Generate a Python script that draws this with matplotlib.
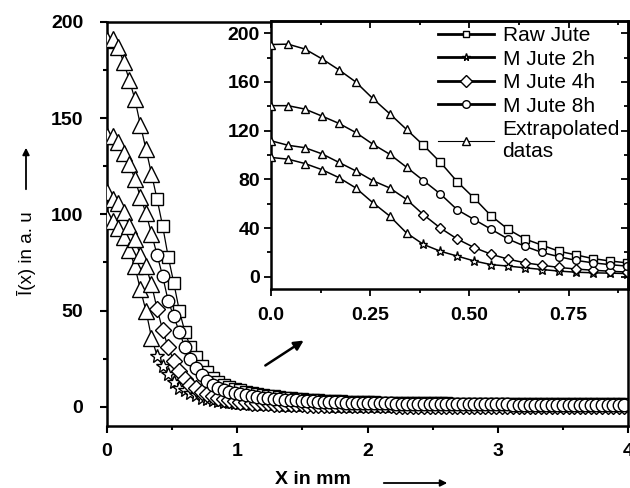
import numpy as np
import matplotlib
matplotlib.use("Agg")
import matplotlib.pyplot as plt
from matplotlib.ticker import MultipleLocator, FixedLocator

plt.rcParams["font.family"] = ["Liberation Sans", "DejaVu Sans"]
plt.rcParams["font.size"] = 14
plt.rcParams["font.weight"] = "bold"

# sampling step along X (mm), 94 samples from 0 to ~4 mm
dx = 0.0427
n_pts = 94
x = np.arange(n_pts) * dx

# extrapolated part (index 0..8), shared by the four samples
extrap_raw = [190.7, 191, 187, 179, 170, 160, 146.5, 134, 121]
extrap_8h = [140.5, 140.5, 137.7, 132, 126, 118.5, 109, 100.7, 90]
extrap_4h = [111.7, 108, 106, 101, 94, 87, 79, 73, 63.6]
extrap_2h = [98, 96.6, 93, 88, 81.5, 73, 61, 50, 36]

# measured data (index 8..93)
raw_jute = [121, 108, 94, 78, 64.5, 50, 39, 31, 26, 21, 18, 15, 13, 11.5,
            10.3, 9.3, 8.5, 7.8, 7.2, 6.7, 6.2, 5.8, 5.4, 5.0,
            4.7, 4.4, 4.1, 3.9, 3.7, 3.5, 3.3, 3.1, 3.0, 2.9,
            2.8, 2.7, 2.6, 2.5, 2.4, 2.3, 2.3, 2.2, 2.1, 2.1,
            2.0, 2.0, 1.9, 1.9, 1.8, 1.8, 1.8, 1.7, 1.7, 1.7,
            1.6, 1.6, 1.6, 1.6, 1.5, 1.5, 1.5, 1.5, 1.5, 1.4,
            1.4, 1.4, 1.4, 1.4, 1.4, 1.3, 1.3, 1.3, 1.3, 1.3,
            1.3, 1.3, 1.2, 1.2, 1.2, 1.2, 1.2, 1.2, 1.2, 1.2,
            1.2, 1.2]
m_jute_8h = [90, 79, 68, 55, 47, 39, 31, 25, 20, 16.5, 13.5, 11.5, 10.0, 8.8,
             7.9, 7.2, 6.6, 6.1, 5.6, 5.2, 4.8, 4.5, 4.2, 3.9,
             3.7, 3.5, 3.3, 3.1, 2.9, 2.8, 2.7, 2.6, 2.5, 2.4,
             2.3, 2.2, 2.1, 2.0, 2.0, 1.9, 1.8, 1.8, 1.7, 1.7,
             1.6, 1.6, 1.6, 1.5, 1.5, 1.5, 1.4, 1.4, 1.4, 1.4,
             1.3, 1.3, 1.3, 1.3, 1.3, 1.2, 1.2, 1.2, 1.2, 1.2,
             1.2, 1.1, 1.1, 1.1, 1.1, 1.1, 1.1, 1.1, 1.1, 1.1,
             1.0, 1.0, 1.0, 1.0, 1.0, 1.0, 1.0, 1.0, 1.0, 1.0,
             1.0, 1.0]
m_jute_4h = [63.6, 51, 40, 31, 24, 18.5, 14.5, 11.5, 9.5, 7.7, 6.4, 5.4, 4.6, 3.9,
             3.4, 3.0, 2.7, 2.4, 2.2, 2.0, 1.8, 1.7, 1.6, 1.5,
             1.4, 1.3, 1.2, 1.2, 1.1, 1.1, 1.0, 1.0, 0.9, 0.9,
             0.9, 0.8, 0.8, 0.8, 0.8, 0.7, 0.7, 0.7, 0.7, 0.7,
             0.6, 0.6, 0.6, 0.6, 0.6, 0.6, 0.6, 0.5, 0.5, 0.5,
             0.5, 0.5, 0.5, 0.5, 0.5, 0.5, 0.5, 0.5, 0.4, 0.4,
             0.4, 0.4, 0.4, 0.4, 0.4, 0.4, 0.4, 0.4, 0.4, 0.4,
             0.4, 0.4, 0.4, 0.4, 0.4, 0.4, 0.4, 0.4, 0.4, 0.4,
             0.4, 0.4]
m_jute_2h = [36, 26.6, 21, 17, 13, 10, 8.8, 7.4, 6, 4.7, 3.8, 3.3, 3.0, 2.7,
             2.4, 2.2, 2.0, 1.8, 1.6, 1.5, 1.4, 1.3, 1.2, 1.1,
             1.0, 0.9, 0.9, 0.8, 0.8, 0.7, 0.7, 0.7, 0.6, 0.6,
             0.6, 0.5, 0.5, 0.5, 0.5, 0.5, 0.4, 0.4, 0.4, 0.4,
             0.4, 0.4, 0.4, 0.3, 0.3, 0.3, 0.3, 0.3, 0.3, 0.3,
             0.3, 0.3, 0.3, 0.3, 0.3, 0.3, 0.3, 0.3, 0.3, 0.3,
             0.2, 0.2, 0.2, 0.2, 0.2, 0.2, 0.2, 0.2, 0.2, 0.2,
             0.2, 0.2, 0.2, 0.2, 0.2, 0.2, 0.2, 0.2, 0.2, 0.2,
             0.2, 0.2]

series = [
    ("Raw Jute", raw_jute, "s"),
    ("M Jute 2h", m_jute_2h, "*"),
    ("M Jute 4h", m_jute_4h, "D"),
    ("M Jute 8h", m_jute_8h, "o"),
]
extraps = [extrap_raw, extrap_2h, extrap_4h, extrap_8h]

main_sizes = {"s": 9, "*": 10, "D": 8, "o": 9, "^": 11}
inset_sizes = {"s": 5.5, "*": 6.5, "D": 5, "o": 5.5, "^": 6}
legend_sizes = [4.5, 5.5, 6, 5.5, 6]


def draw(ax, sizes, lw):
    for label, vals, mk in series:
        ax.plot(x[8:], vals, color="black", lw=lw, marker=mk,
                markersize=sizes[mk], markerfacecolor="white",
                markeredgecolor="black", markeredgewidth=1.0,
                markevery=slice(1, None), label=label)
    for i, ev in enumerate(extraps):
        ax.plot(x[:9], ev, color="black", lw=lw, marker="^",
                markersize=sizes["^"], markerfacecolor="white",
                markeredgecolor="black", markeredgewidth=1.0,
                label="_extrap" if i else "Extrapolated\ndatas", zorder=3)


fig = plt.figure(figsize=(6.3, 4.88), dpi=100)
ax = fig.add_axes([107 / 630, 62 / 488, 521 / 630, 404 / 488])
draw(ax, main_sizes, 0.9)
ax.set_xlim(0, 4)
ax.set_ylim(-10, 200)
ax.xaxis.set_major_locator(MultipleLocator(1))
ax.xaxis.set_minor_locator(MultipleLocator(0.5))
ax.yaxis.set_major_locator(MultipleLocator(50))
ax.yaxis.set_minor_locator(MultipleLocator(25))
ax.tick_params(which="both", direction="out", width=1.5, top=False, right=False)
ax.tick_params(which="major", length=5)
ax.tick_params(which="minor", length=3)
ax.tick_params(axis="y", pad=12)
ax.tick_params(axis="x", pad=7)
for sp in ax.spines.values():
    sp.set_linewidth(1.8)

# inset
axi = fig.add_axes([271 / 630, 199 / 488, 357 / 630, 268 / 488])
draw(axi, inset_sizes, 1.1)
axi.set_xlim(0, 0.9)
axi.set_ylim(-10, 210)
axi.xaxis.set_major_locator(FixedLocator([0, 0.25, 0.5, 0.75]))
axi.set_xticklabels(["0.0", "0.25", "0.50", "0.75"])
axi.xaxis.set_minor_locator(MultipleLocator(0.125))
axi.yaxis.set_major_locator(MultipleLocator(40))
axi.yaxis.set_minor_locator(MultipleLocator(20))
axi.tick_params(which="both", direction="out", width=1.3, top=False, right=False)
axi.tick_params(which="major", length=5, pad=3)
axi.tick_params(which="minor", length=3)
axi.tick_params(axis="x", pad=8)
axt = axi.secondary_xaxis("top")
axt.set_xticks([0, 0.25, 0.5, 0.75])
axt.xaxis.set_minor_locator(MultipleLocator(0.125))
axt.tick_params(which="both", direction="in", labeltop=False, width=1.3)
axt.tick_params(which="major", length=5)
axt.tick_params(which="minor", length=3)
axr = axi.secondary_yaxis("right")
axr.set_yticks(np.arange(0, 201, 40))
axr.yaxis.set_minor_locator(MultipleLocator(20))
axr.tick_params(which="both", direction="in", labelright=False, width=1.3)
axr.tick_params(which="major", length=5)
axr.tick_params(which="minor", length=3)
for sp in list(axi.spines.values()) + [axt.spines["top"], axr.spines["right"]]:
    sp.set_linewidth(1.8)

handles, labels = axi.get_legend_handles_labels()
leg = axi.legend(handles, labels, loc="upper left",
                 bbox_to_anchor=(438 / 630, 1 - 26 / 488),
                 bbox_transform=fig.transFigure, frameon=False,
                 prop={"size": 15, "weight": "normal"},
                 handlelength=2.7, handletextpad=0.4, labelspacing=0.22,
                 borderpad=0, borderaxespad=0)
for ln, ms in zip(leg.get_lines(), legend_sizes):
    ln.set_markersize(ms)
for ln in leg.get_lines()[:4]:
    ln.set_linewidth(2.0)
leg.get_lines()[4].set_linewidth(0.8)

# axis labels with arrows
fig.text(26 / 630, 1 - 253 / 488, "Ī(x) in a. u", rotation=90,
         ha="center", va="center", fontsize=13.5, fontweight="normal")
fig.text(313 / 630, 1 - 479 / 488, "X in mm", ha="center", va="center",
         fontsize=14, fontweight="bold")
arrow = dict(arrowstyle="-|>", color="black", lw=1.3, mutation_scale=10)
ax.annotate("", xy=(26, 488 - 145), xytext=(26, 488 - 192),
            xycoords="figure pixels", textcoords="figure pixels", arrowprops=arrow)
ax.annotate("", xy=(450, 488 - 483), xytext=(381, 488 - 483),
            xycoords="figure pixels", textcoords="figure pixels", arrowprops=arrow)
ax.annotate("", xy=(306, 488 - 339), xytext=(263, 488 - 367),
            xycoords="figure pixels", textcoords="figure pixels",
            arrowprops=dict(arrowstyle="-|>", color="black", lw=1.8, mutation_scale=14))

fig.savefig("out.png", dpi=100)
